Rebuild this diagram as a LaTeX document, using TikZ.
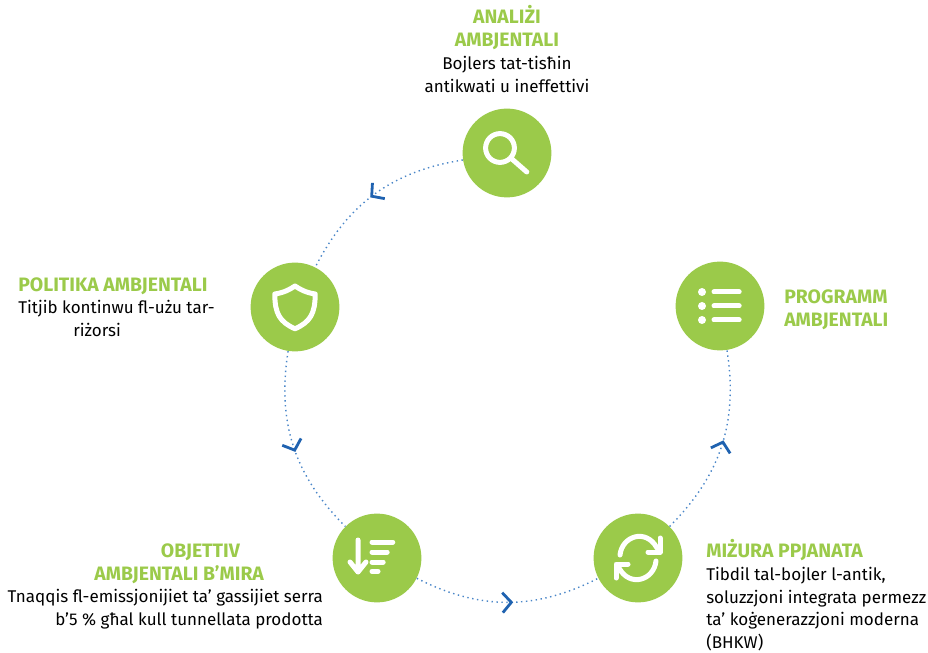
\documentclass[tikz,border=0pt]{standalone}
\usepackage{fontspec}
\setmainfont{Fira Sans}
\usetikzlibrary{arrows.meta,decorations.markings}
\definecolor{leafgreen}{HTML}{9BCA4A}
\definecolor{dotblue}{HTML}{4A86C8}
\definecolor{tipblue}{HTML}{1F62B0}
\tikzset{
	stage/.style={circle,fill=leafgreen,minimum size=2.22cm,inner sep=0pt},
	caption/.style={inner sep=0pt,font=\fontsize{12.1}{16.2}\selectfont},
	icon/.style={draw=white,line width=1.25mm,line cap=round,line join=round},
	cycle/.style={dotblue,line width=1pt,dash pattern=on 1pt off 2.5pt,
		postaction={decorate,decoration={markings,mark=at position 0.53 with
		{\arrow[solid,tipblue,line width=0.7mm]{Straight Barb[length=2.2mm,width=5mm]}}}}}
}
\newcommand{\headline}[1]{{\fontsize{13.8}{16.2}\selectfont\bfseries\color{leafgreen}#1}}
\begin{document}
\begin{tikzpicture}
	\useasboundingbox (0,0) rectangle (23.2,16.3);

	\node[stage] (analizi) at (12.675,12.475){}; % top
	\node[stage] (politika) at (7.375,8.625){}; % left
	\node[stage] (objettiv) at (9.425,2.35){}; % bottom left
	\node[stage] (mizura) at (15.95,2.35){}; % bottom right
	\node[stage] (programm) at (18,8.65){}; % right

	\draw[cycle] (analizi) to[bend right=27] (politika);
	\draw[cycle] (politika) to[bend right=27] (objettiv);
	\draw[cycle] (objettiv) to[bend right=27] (mizura);
	\draw[cycle] (mizura) to[bend right=27] (programm);

	% magnifier icon
	\draw[icon] (12.5,12.6) circle (0.36cm);
	\draw[icon] (12.78,12.34) -- (13.17,12.0);

	% shield icon
	\draw[icon] (7.375,9.15) .. controls (7.15,9) and (7,8.97) .. (6.87,8.95) .. controls (6.87,8.45) and (7,8.25) .. (7.375,8.08)
		.. controls (7.75,8.25) and (7.88,8.45) .. (7.88,8.95) .. controls (7.75,8.97) and (7.6,9) .. (7.375,9.15);

	% sort icon
	\draw[icon] (8.95,2.8) -- (8.95,2) (8.75,2.25) -- (8.95,2) -- (9.15,2.25);
	\draw[icon] (9.3,2.75) -- (9.82,2.75);
	\draw[icon] (9.3,2.5) -- (9.68,2.5);
	\draw[icon] (9.3,2.25) -- (9.58,2.25);
	\draw[icon] (9.3,2.02) -- (9.45,2.02);

	% refresh icon
	\draw[icon] (15.5,2.425) .. controls (15.55,2.9) and (16.15,3.1) .. (16.425,2.6);
	\draw[icon] (16.5,2.85) -- (16.5,2.5) -- (16.2,2.5);
	\draw[icon] (16.4,2.275) .. controls (16.35,1.8) and (15.75,1.6) .. (15.475,2.1);
	\draw[icon] (15.4,1.85) -- (15.4,2.2) -- (15.7,2.2);

	% list icon
	\foreach \row in {9,8.65,8.3}{
		\fill[white] (17.55,\row) circle (0.1cm);
		\draw[icon] (17.85,\row) -- (18.48,\row);
	}

	\node[caption,align=center] (analizitext) at (12.675,15.075) {\headline{ANALIŻI}\\\headline{AMBJENTALI}\\Bojlers tat-tisħin\\antikwati u ineffettivi};
	\node[caption,align=left,anchor=north west] (politikatext) at (0.45,9.375) {\headline{POLITIKA AMBJENTALI}\\Titjib kontinwu fl-użu tar-\\\hspace*{1.375cm}riżorsi};
	\node[caption,align=right,anchor=north east] (objettivtext) at (8.08,2.72) {\headline{OBJETTIV}\rule{2.075cm}{0pt}\\\headline{AMBJENTALI B’MIRA}\rule{1.475cm}{0pt}\\Tnaqqis fl-emissjonijiet ta’ gassijiet serra\\b’5 \% għal kull tunnellata prodotta};
	\node[caption,align=left,anchor=north west] (mizuratext) at (17.65,2.82) {\headline{MIŻURA PPJANATA}\\Tibdil tal-bojler l-antik,\\soluzzjoni integrata permezz\\ta’ koġenerazzjoni moderna\\(BHKW)};
	\node[caption,align=left,anchor=west] (programmtext) at (19.6,8.55) {\headline{PROGRAMM}\\\headline{AMBJENTALI}};
\end{tikzpicture}
\end{document}
